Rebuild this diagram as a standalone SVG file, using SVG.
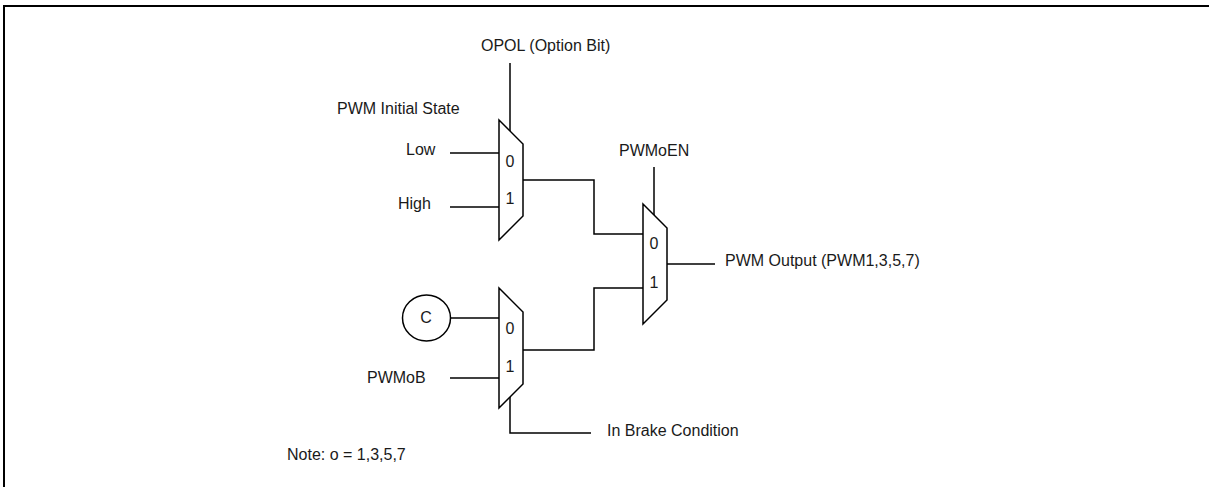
<svg xmlns="http://www.w3.org/2000/svg" width="1209" height="487" viewBox="0 0 1209 487">
<style>
.l{fill:none;stroke:#000;stroke-width:1.5}
.m{fill:#fff;stroke:#000;stroke-width:1.5}
text{font-family:"Liberation Sans",Arial,sans-serif;font-size:16px;fill:#1a1a1a}
.c{text-anchor:middle}
</style>
<rect width="1209" height="487" fill="#fff"/>
<path id="frame" d="M4 487V6H1209" fill="none" stroke="#000" stroke-width="2"/>
<g id="connectors">
<path class="l" d="M510 63V132"/>
<path class="l" d="M450 153H499"/>
<path class="l" d="M450 207H499"/>
<path class="l" d="M523 180H594V234H643"/>
<path class="l" d="M654 167V216"/>
<path class="l" d="M667 264H715"/>
<path class="l" d="M451 318H499"/>
<path class="l" d="M450 378H499"/>
<path class="l" d="M523 350H594V288H643"/>
<path class="l" d="M510 397V433H591"/>
</g>
<g id="mux1"><path class="m" d="M499 120L523 144V216L499 240Z"/><text class="c" x="510" y="167">0</text><text class="c" x="510" y="204">1</text></g>
<g id="mux2"><path class="m" d="M643 204L667 228V300L643 324Z"/><text class="c" x="654" y="249">0</text><text class="c" x="654" y="288">1</text></g>
<g id="mux3"><path class="m" d="M499 288L523 312V384L499 408Z"/><text class="c" x="510" y="334">0</text><text class="c" x="510" y="372">1</text></g>
<g id="circle-c"><ellipse class="m" cx="426.500" cy="318" rx="24" ry="23"/><text class="c" x="426" y="323">C</text></g>
<g id="labels">
<text x="481" y="51">OPOL (Option Bit)</text>
<text x="337" y="114">PWM Initial State</text>
<text x="406" y="155">Low</text>
<text x="398" y="209">High</text>
<text x="619" y="156">PWMoEN</text>
<text x="725" y="266">PWM Output (PWM1,3,5,7)</text>
<text x="367" y="383">PWMoB</text>
<text x="607" y="436">In Brake Condition</text>
<text x="287" y="460">Note: o = 1,3,5,7</text>
</g>
</svg>
